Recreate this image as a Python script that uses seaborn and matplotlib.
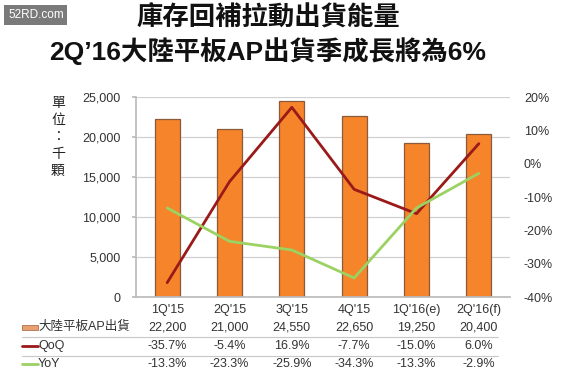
import matplotlib
matplotlib.use("Agg")
import matplotlib.pyplot as plt
import matplotlib.transforms as mtransforms
import seaborn as sns
import pandas as pd

categories = ["1Q'15", "2Q'15", "3Q'15", "4Q'15", "1Q'16(e)", "2Q'16(f)"]
shipments = [22200, 21000, 24550, 22650, 19250, 20400]
qoq = [-35.7, -5.4, 16.9, -7.7, -15.0, 6.0]
yoy = [-13.3, -23.3, -25.9, -34.3, -13.3, -2.9]
shipment_labels = ["22,200", "21,000", "24,550", "22,650", "19,250", "20,400"]
qoq_labels = ["-35.7%", "-5.4%", "16.9%", "-7.7%", "-15.0%", "6.0%"]
yoy_labels = ["-13.3%", "-23.3%", "-25.9%", "-34.3%", "-13.3%", "-2.9%"]
left_ticks = [0, 5000, 10000, 15000, 20000, 25000]
right_ticks = [-40, -30, -20, -10, 0, 10, 20]
series_names = ["大陸平板AP出貨", "QoQ", "YoY"]

sns.set_theme(style="white")
plt.rcParams['font.family'] = ['Liberation Sans', 'Noto Sans CJK TC', 'DejaVu Sans']

W, H = 564, 378
fig = plt.figure(figsize=(W / 100, H / 100), dpi=100)
fig.patch.set_facecolor("white")

ax = fig.add_axes([136 / W, 1 - 297 / H, (510 - 136) / W, 200 / H])
df = pd.DataFrame({"cat": categories, "val": shipments})
sns.barplot(data=df, x="cat", y="val", ax=ax, color="#F5842A", width=0.4,
            edgecolor="#8A5A3A", linewidth=0.9, saturation=1)
ax.set_xlim(-0.5, 5.5)
ax.set_ylim(0, 25000)
ax.set_yticks(left_ticks)
ax.set_yticklabels([f"{v:,}" for v in left_ticks], fontsize=9, color="#333333")
ax.set_xticks(range(len(categories)))
ax.set_xticklabels(categories, fontsize=9, color="#333333")
ax.tick_params(axis="x", length=0, pad=5)
ax.tick_params(axis="y", length=3, color="#BBBBBB", pad=8)
ax.set_xlabel("")
ax.set_ylabel("")
ax.yaxis.grid(True, color="#D0D0D0", linewidth=0.9)
ax.set_axisbelow(True)
for s in ["top", "right"]:
    ax.spines[s].set_visible(False)
ax.spines["left"].set_color("#BBBBBB")
ax.spines["bottom"].set_color("#BBBBBB")

ax2 = ax.twinx()
x = list(range(len(categories)))
sns.lineplot(x=x, y=qoq, ax=ax2, color="#9A1A1A", linewidth=2.0)
sns.lineplot(x=x, y=yoy, ax=ax2, color="#9BD262", linewidth=2.0)
ax2.set_ylim(-40, 20)
ax2.set_yticks(right_ticks)
ax2.set_yticklabels([f"{v}%" for v in right_ticks], fontsize=9, color="#333333")
ax2.tick_params(axis="y", length=0, pad=10)
for s in ["top", "right", "left", "bottom"]:
    ax2.spines[s].set_visible(False)
ax2.set_xlim(-0.5, 5.5)

# Titles
fig.text(268 / W, 1 - 18 / H, "庫存回補拉動出貨能量", ha="center", va="center",
         fontsize=19, fontweight="bold", color="#111111")
fig.text(268 / W, 1 - 51 / H, "2Q’16大陸平板AP出貨季成長將為6%", ha="center", va="center",
         fontsize=19, fontweight="bold", color="#111111")

# Watermark
fig.text(8 / W, 1 - 15 / H, "52RD.com", ha="left", va="center", fontsize=8.5, color="white",
         bbox=dict(boxstyle="square,pad=0.3", facecolor="#7A7A7A", edgecolor="none"))

# Y-axis unit label
for i, ch in enumerate(["單", "位", "：", "千", "顆"]):
    fig.text(58 / W, 1 - (103 + i * 17) / H, ch, ha="center", va="center", fontsize=10,
             color="#222222", family=['Noto Sans CJK TC', 'DejaVu Sans'])

# Data table
trans = mtransforms.blended_transform_factory(ax.transData, fig.transFigure)
rows_y = [327, 346, 364]
for row_labels, yy in zip([shipment_labels, qoq_labels, yoy_labels], rows_y):
    for xi, lab in enumerate(row_labels):
        ax.text(xi, 1 - yy / H, lab, transform=trans, ha="center", va="center",
                fontsize=9, color="#333333", clip_on=False)

fig.add_artist(plt.Rectangle((22 / W, 1 - 330 / H), 16 / W, 5 / H, transform=fig.transFigure,
                             facecolor="#E8A070", edgecolor="#B07050", linewidth=0.6))
fig.add_artist(plt.Line2D([22 / W, 38 / W], [1 - 346 / H, 1 - 346 / H], transform=fig.transFigure,
                          color="#9A1A1A", linewidth=2))
fig.add_artist(plt.Line2D([22 / W, 38 / W], [1 - 364 / H, 1 - 364 / H], transform=fig.transFigure,
                          color="#9BD262", linewidth=2))
for name, yy in zip(series_names, rows_y):
    fig.text(38 / W, 1 - yy / H, name, ha="left", va="center", fontsize=9, color="#333333")
for yy in [337, 356]:
    fig.add_artist(plt.Line2D([22 / W, 498 / W], [1 - yy / H, 1 - yy / H], transform=fig.transFigure,
                              color="#C8C8C8", linewidth=0.8))

fig.savefig("out.png", dpi=100, facecolor="white")
